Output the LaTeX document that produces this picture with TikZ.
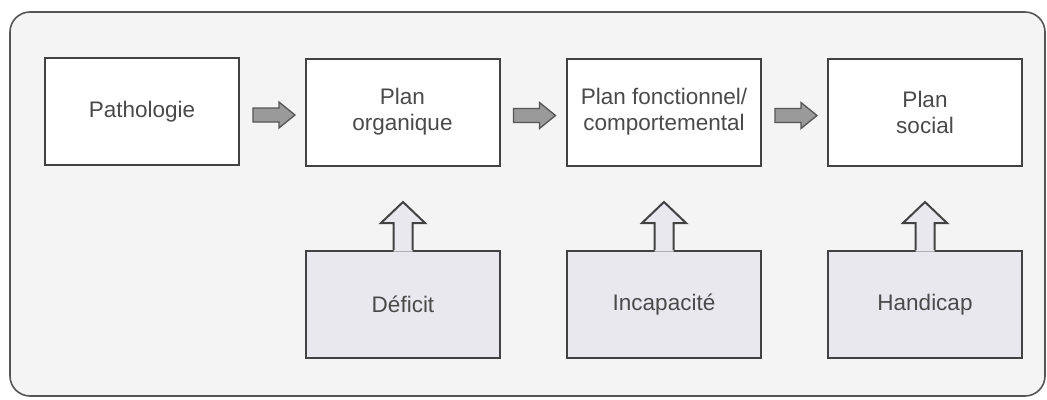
\documentclass[tikz,border=0pt]{standalone}
\usepackage{fontspec}
\setmainfont{Liberation Sans}
\usetikzlibrary{calc}
\definecolor{bgc}{HTML}{F4F4F4}
\definecolor{framec}{HTML}{555555}
\definecolor{linec}{HTML}{424242}
\definecolor{txtc}{HTML}{4A4A4A}
\definecolor{lowfill}{HTML}{E9E8EE}
\definecolor{arrfill}{HTML}{9A9A9A}
\definecolor{arrline}{HTML}{555555}
\tikzset{
  planbox/.style={draw=linec, line width=2pt, fill=white, minimum width=194pt, minimum height=107pt, inner sep=0pt, align=center, text=txtc, font=\fontsize{22.5}{26}\selectfont},
  lowbox/.style={planbox, fill=lowfill},
  rarr/.style={draw=arrline, fill=arrfill, line width=1.3pt, line join=miter},
  uarr/.style={draw=linec, fill=lowfill, line width=2pt, line join=miter},
}
\begin{document}
\begin{tikzpicture}[x=1pt,y=-1pt]
\useasboundingbox (0,0) rectangle (1047,399);
\fill[white] (0,0) rectangle (1047,399);
\draw[draw=framec, fill=bgc, line width=1.6pt, rounded corners=20pt] (10,12) rectangle (1045,396);

\node[planbox] (p) at (142,111.5) {Pathologie};
\node[planbox] (o) at (402.5,112) {Plan\\organique};
\node[planbox] (f) at (664,112) {Plan fonctionnel/\\comportemental};
\node[planbox] (s) at (925,112) {Plan\\social};

\node[lowbox] (d) at (403,304.5) {Déficit};
\node[lowbox] (i) at (664,304.5) {Incapacité};
\node[lowbox] (h) at (925,304.5) {Handicap};

% right block arrows
\foreach \a/\b in {p/o, o/f, f/s}{
  \draw[rarr] ($(\a.east)+(13,-3.5)$) coordinate (\a\b) -- ++(26,0) -- ++(0,-6) -- ++(16,13) -- ++(-16,13) -- ++(0,-6) -- ++(-26,0) -- cycle;
}

% up block arrows
\foreach \a in {d, i, h}{
  \fill[lowfill] ($(\a.north)+(-9.5,1.5)$) -- ++(0,-28.5) -- ++(-12.5,0) -- ++(22,-21) -- ++(22,21) -- ++(-12.5,0) -- ++(0,28.5) -- cycle;
  \draw[uarr, fill=none] ($(\a.north)+(-9.5,0)$) -- ++(0,-27) -- ++(-12.5,0) -- ++(22,-21) -- ++(22,21) -- ++(-12.5,0) -- ++(0,27);
}
\end{tikzpicture}
\end{document}
